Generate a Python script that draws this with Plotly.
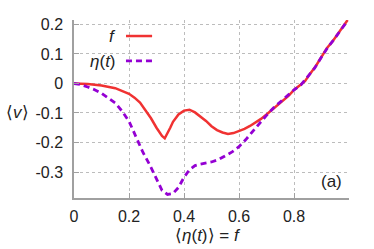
import plotly.graph_objects as go

# Data
f_x = [0, 0.05, 0.1, 0.15, 0.2, 0.22, 0.24, 0.26, 0.28, 0.30, 0.31, 0.32, 0.33, 0.34, 0.35, 0.36,
       0.38, 0.40, 0.42, 0.44, 0.46, 0.48, 0.50, 0.52, 0.54, 0.56, 0.58, 0.60, 0.62, 0.64, 0.66,
       0.68, 0.70, 0.72, 0.74, 0.76, 0.78, 0.80, 0.82, 0.84, 0.86, 0.88, 0.90, 0.92, 0.94, 0.96,
       0.98, 0.995]
f_y = [0, -0.002, -0.007, -0.016, -0.035, -0.048, -0.065, -0.09, -0.118, -0.15, -0.165, -0.178,
       -0.186, -0.17, -0.15, -0.13, -0.105, -0.092, -0.089, -0.098, -0.112, -0.127, -0.145,
       -0.158, -0.166, -0.171, -0.168, -0.162, -0.154, -0.144, -0.133, -0.12, -0.105, -0.09,
       -0.073, -0.058, -0.042, -0.022, -0.006, 0.008, 0.035, 0.06, 0.09, 0.12, 0.142, 0.168,
       0.193, 0.215]

eta_x = [0, 0.025, 0.05, 0.075, 0.1, 0.125, 0.15, 0.175, 0.2, 0.225, 0.25, 0.275, 0.3, 0.32,
         0.34, 0.36, 0.38, 0.4, 0.42, 0.44, 0.46, 0.48, 0.5, 0.525, 0.55, 0.575, 0.6, 0.625,
         0.65, 0.675, 0.7, 0.725, 0.75, 0.775, 0.8, 0.825, 0.85, 0.875, 0.9, 0.925, 0.95,
         0.975, 0.995]
eta_y = [0, -0.004, -0.012, -0.021, -0.033, -0.049, -0.066, -0.094, -0.128, -0.18, -0.232,
         -0.275, -0.322, -0.362, -0.376, -0.373, -0.352, -0.318, -0.292, -0.278, -0.273, -0.27,
         -0.266, -0.258, -0.246, -0.232, -0.214, -0.19, -0.162, -0.133, -0.108, -0.083, -0.062,
         -0.043, -0.022, -0.005, 0.022, 0.052, 0.09, 0.125, 0.155, 0.186, 0.213]

x_ticks = [0, 0.2, 0.4, 0.6, 0.8]
x_labels = ["0", "0.2", "0.4", "0.6", "0.8"]
y_ticks = [-0.3, -0.2, -0.1, 0, 0.1, 0.2]
y_labels = ["-0.3", "-0.2", "-0.1", "0", "0.1", "0.2"]

RED = "#f03232"
PURPLE = "#9400d3"
FONT = "Liberation Sans"

fig = go.Figure()
fig.add_trace(go.Scatter(x=f_x, y=f_y, mode="lines", line=dict(color=RED, width=2.5),
                         showlegend=False))
fig.add_trace(go.Scatter(x=eta_x, y=eta_y, mode="lines",
                         line=dict(color=PURPLE, width=2.8, dash="6px,4px"), showlegend=False))

axis_common = dict(showline=True, linecolor="#a0a0a0", linewidth=1.5, ticks="inside",
                   ticklen=5, tickcolor="#a0a0a0", showgrid=True, gridcolor="#bcbcbc",
                   griddash="dot", gridwidth=1, zeroline=False, mirror=False, automargin=False,
                   tickfont=dict(family=FONT, size=16, color="#222"))

fig.update_xaxes(range=[0, 1], tickvals=x_ticks, ticktext=x_labels, ticklabelstandoff=3,
                 **axis_common)
fig.update_yaxes(range=[-0.388, 0.215], tickvals=y_ticks, ticktext=y_labels,
                 ticklabelstandoff=6, **axis_common)

ann_font = dict(family=FONT, size=17, color="#222")
annotations = [
    dict(text="⟨<i>v</i>⟩", x=-0.207, y=0.483, xref="paper", yref="paper",
         xanchor="center", yanchor="middle", showarrow=False, font=ann_font),
    dict(text="⟨<i>η</i>(<i>t</i>)⟩ = <i>f</i>", x=0.487, y=-0.208, xref="paper",
         yref="paper", xanchor="center", yanchor="middle", showarrow=False, font=ann_font),
    dict(text="(a)", x=0.98, y=0.09, xref="paper", yref="paper", xanchor="right",
         yanchor="middle", showarrow=False, font=ann_font),
    dict(text="<i>f</i>", x=0.16, y=0.905, xref="paper", yref="paper", xanchor="right",
         yanchor="middle", showarrow=False, font=ann_font),
    dict(text="<i>η</i>(<i>t</i>)", x=0.16, y=0.765, xref="paper", yref="paper",
         xanchor="right", yanchor="middle", showarrow=False, font=ann_font),
]
shapes = [
    dict(type="line", xref="paper", yref="paper", x0=0.189, x1=0.284, y0=0.91, y1=0.91,
         line=dict(color=RED, width=2.5)),
    dict(type="line", xref="paper", yref="paper", x0=0.189, x1=0.284, y0=0.77, y1=0.77,
         line=dict(color=PURPLE, width=2.8, dash="6px,4px")),
]

fig.update_layout(template="none", width=374, height=249,
                  margin=dict(l=74, r=25, t=20, b=51, autoexpand=False),
                  paper_bgcolor="white", plot_bgcolor="white",
                  font=dict(family=FONT, size=17, color="#222"),
                  annotations=annotations, shapes=shapes, showlegend=False)

fig.write_html("out.html", config={"displayModeBar": False},
               post_script="document.body.style.margin='0';")
